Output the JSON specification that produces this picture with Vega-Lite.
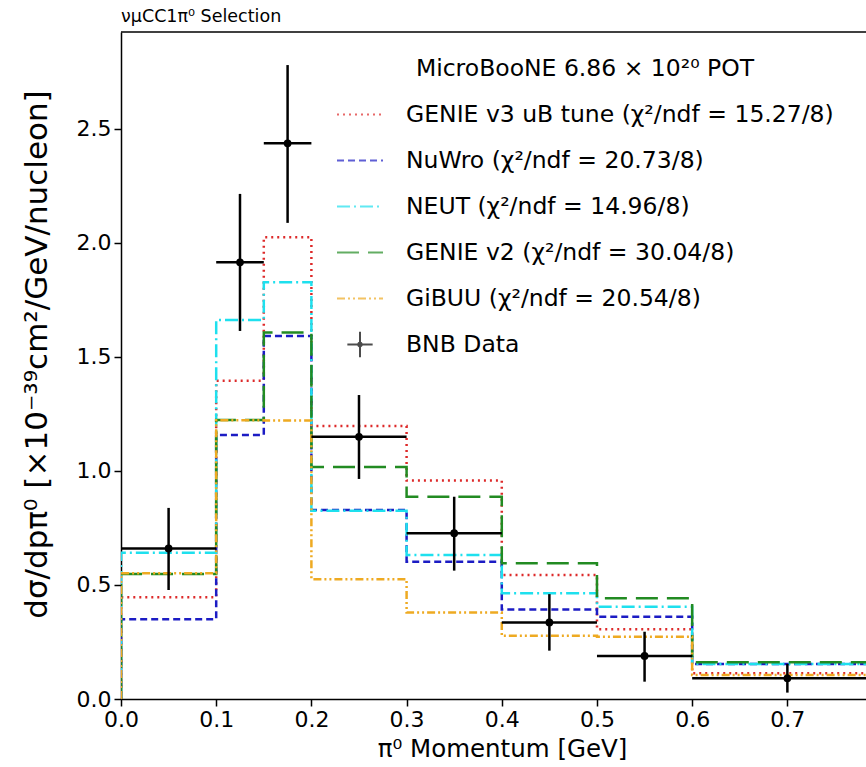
{
  "$schema": "https://vega.github.io/schema/vega-lite/v6.json",
  "autosize": {"type": "none"},
  "padding": {"left": 121, "top": 32, "right": 0, "bottom": 68},
  "width": 745,
  "height": 667,
  "background": "white",
  "title": {"text": "νμCC1π⁰ Selection", "anchor": "start", "frame": "group", "fontSize": 17.5, "fontWeight": "normal", "font": "DejaVu Sans", "color": "black", "offset": 6},
  "config": {
    "view": {"stroke": null},
    "font": "DejaVu Sans",
    "axis": {"labelFont": "DejaVu Sans", "titleFont": "DejaVu Sans", "labelColor": "black", "titleColor": "black", "domainColor": "black", "tickColor": "black", "domainWidth": 1.5, "tickWidth": 1.5, "tickSize": 7, "labelFontSize": 22, "titleFontWeight": "normal", "grid": false, "labelFlush": false},
    "legend": {"labelFont": "DejaVu Sans", "titleFont": "DejaVu Sans", "labelFontSize": 23.5, "titleFontSize": 23.5, "titleFontWeight": "normal", "labelColor": "black", "titleColor": "black", "symbolSize": 2116, "symbolStrokeWidth": 2, "rowPadding": 10, "labelOffset": 22, "padding": 0, "titleAnchor": "middle", "titlePadding": 10, "labelLimit": 800, "titleLimit": 800}
  },
  "datasets": {
    "models": [
      {"model": "GENIE v3 uB tune (χ²/ndf = 15.27/8)", "i": 0, "x": 0, "y": 0},
      {"model": "GENIE v3 uB tune (χ²/ndf = 15.27/8)", "i": 1, "x": 0, "y": 0.446},
      {"model": "GENIE v3 uB tune (χ²/ndf = 15.27/8)", "i": 2, "x": 0.1, "y": 1.396},
      {"model": "GENIE v3 uB tune (χ²/ndf = 15.27/8)", "i": 3, "x": 0.15, "y": 2.025},
      {"model": "GENIE v3 uB tune (χ²/ndf = 15.27/8)", "i": 4, "x": 0.2, "y": 1.197},
      {"model": "GENIE v3 uB tune (χ²/ndf = 15.27/8)", "i": 5, "x": 0.3, "y": 0.958},
      {"model": "GENIE v3 uB tune (χ²/ndf = 15.27/8)", "i": 6, "x": 0.4, "y": 0.544},
      {"model": "GENIE v3 uB tune (χ²/ndf = 15.27/8)", "i": 7, "x": 0.5, "y": 0.306},
      {"model": "GENIE v3 uB tune (χ²/ndf = 15.27/8)", "i": 8, "x": 0.6, "y": 0.113},
      {"model": "GENIE v3 uB tune (χ²/ndf = 15.27/8)", "i": 9, "x": 0.8, "y": 0.113},
      {"model": "NuWro (χ²/ndf = 20.73/8)", "i": 0, "x": 0, "y": 0},
      {"model": "NuWro (χ²/ndf = 20.73/8)", "i": 1, "x": 0, "y": 0.35},
      {"model": "NuWro (χ²/ndf = 20.73/8)", "i": 2, "x": 0.1, "y": 1.158},
      {"model": "NuWro (χ²/ndf = 20.73/8)", "i": 3, "x": 0.15, "y": 1.592},
      {"model": "NuWro (χ²/ndf = 20.73/8)", "i": 4, "x": 0.2, "y": 0.829},
      {"model": "NuWro (χ²/ndf = 20.73/8)", "i": 5, "x": 0.3, "y": 0.602},
      {"model": "NuWro (χ²/ndf = 20.73/8)", "i": 6, "x": 0.4, "y": 0.392},
      {"model": "NuWro (χ²/ndf = 20.73/8)", "i": 7, "x": 0.5, "y": 0.361},
      {"model": "NuWro (χ²/ndf = 20.73/8)", "i": 8, "x": 0.6, "y": 0.154},
      {"model": "NuWro (χ²/ndf = 20.73/8)", "i": 9, "x": 0.8, "y": 0.154},
      {"model": "NEUT (χ²/ndf = 14.96/8)", "i": 0, "x": 0, "y": 0},
      {"model": "NEUT (χ²/ndf = 14.96/8)", "i": 1, "x": 0, "y": 0.641},
      {"model": "NEUT (χ²/ndf = 14.96/8)", "i": 2, "x": 0.1, "y": 1.662},
      {"model": "NEUT (χ²/ndf = 14.96/8)", "i": 3, "x": 0.15, "y": 1.828},
      {"model": "NEUT (χ²/ndf = 14.96/8)", "i": 4, "x": 0.2, "y": 0.825},
      {"model": "NEUT (χ²/ndf = 14.96/8)", "i": 5, "x": 0.3, "y": 0.632},
      {"model": "NEUT (χ²/ndf = 14.96/8)", "i": 6, "x": 0.4, "y": 0.464},
      {"model": "NEUT (χ²/ndf = 14.96/8)", "i": 7, "x": 0.5, "y": 0.405},
      {"model": "NEUT (χ²/ndf = 14.96/8)", "i": 8, "x": 0.6, "y": 0.154},
      {"model": "NEUT (χ²/ndf = 14.96/8)", "i": 9, "x": 0.8, "y": 0.154},
      {"model": "GENIE v2 (χ²/ndf = 30.04/8)", "i": 0, "x": 0, "y": 0},
      {"model": "GENIE v2 (χ²/ndf = 30.04/8)", "i": 1, "x": 0, "y": 0.548},
      {"model": "GENIE v2 (χ²/ndf = 30.04/8)", "i": 2, "x": 0.1, "y": 1.224},
      {"model": "GENIE v2 (χ²/ndf = 30.04/8)", "i": 3, "x": 0.15, "y": 1.607},
      {"model": "GENIE v2 (χ²/ndf = 30.04/8)", "i": 4, "x": 0.2, "y": 1.017},
      {"model": "GENIE v2 (χ²/ndf = 30.04/8)", "i": 5, "x": 0.3, "y": 0.887},
      {"model": "GENIE v2 (χ²/ndf = 30.04/8)", "i": 6, "x": 0.4, "y": 0.595},
      {"model": "GENIE v2 (χ²/ndf = 30.04/8)", "i": 7, "x": 0.5, "y": 0.442},
      {"model": "GENIE v2 (χ²/ndf = 30.04/8)", "i": 8, "x": 0.6, "y": 0.161},
      {"model": "GENIE v2 (χ²/ndf = 30.04/8)", "i": 9, "x": 0.8, "y": 0.161},
      {"model": "GiBUU (χ²/ndf = 20.54/8)", "i": 0, "x": 0, "y": 0},
      {"model": "GiBUU (χ²/ndf = 20.54/8)", "i": 1, "x": 0, "y": 0.552},
      {"model": "GiBUU (χ²/ndf = 20.54/8)", "i": 2, "x": 0.1, "y": 1.222},
      {"model": "GiBUU (χ²/ndf = 20.54/8)", "i": 3, "x": 0.15, "y": 1.221},
      {"model": "GiBUU (χ²/ndf = 20.54/8)", "i": 4, "x": 0.2, "y": 0.525},
      {"model": "GiBUU (χ²/ndf = 20.54/8)", "i": 5, "x": 0.3, "y": 0.379},
      {"model": "GiBUU (χ²/ndf = 20.54/8)", "i": 6, "x": 0.4, "y": 0.277},
      {"model": "GiBUU (χ²/ndf = 20.54/8)", "i": 7, "x": 0.5, "y": 0.273},
      {"model": "GiBUU (χ²/ndf = 20.54/8)", "i": 8, "x": 0.6, "y": 0.105},
      {"model": "GiBUU (χ²/ndf = 20.54/8)", "i": 9, "x": 0.8, "y": 0.105}
    ],
    "bnb": [
      {"x": 0.05, "x0": 0.0, "x1": 0.1, "y": 0.66, "ylo": 0.478, "yhi": 0.838},
      {"x": 0.125, "x0": 0.1, "x1": 0.15, "y": 1.915, "ylo": 1.614, "yhi": 2.215},
      {"x": 0.175, "x0": 0.15, "x1": 0.2, "y": 2.437, "ylo": 2.088, "yhi": 2.78},
      {"x": 0.25, "x0": 0.2, "x1": 0.3, "y": 1.15, "ylo": 0.965, "yhi": 1.333},
      {"x": 0.35, "x0": 0.3, "x1": 0.4, "y": 0.727, "ylo": 0.563, "yhi": 0.887},
      {"x": 0.45, "x0": 0.4, "x1": 0.5, "y": 0.336, "ylo": 0.212, "yhi": 0.46},
      {"x": 0.55, "x0": 0.5, "x1": 0.6, "y": 0.189, "ylo": 0.076, "yhi": 0.295},
      {"x": 0.7, "x0": 0.6, "x1": 0.8, "y": 0.091, "ylo": 0.028, "yhi": 0.154}
    ]
  },
  "encoding": {
    "x": {"type": "quantitative", "scale": {"domain": [0, 0.7826], "nice": false, "zero": false},
      "axis": {"values": [0, 0.1, 0.2, 0.3, 0.4, 0.5, 0.6, 0.7], "format": ".1f", "title": "π⁰ Momentum [GeV]", "titleFontSize": 24.5, "titleX": 381, "titleY": 50, "titleBaseline": "middle", "titleAlign": "center", "labelPadding": 3, "labelFlush": false}},
    "y": {"type": "quantitative", "scale": {"domain": [0, 2.925], "nice": false},
      "axis": {"values": [0, 0.5, 1, 1.5, 2, 2.5], "format": ".1f", "title": "dσ/dpπ⁰ [×10⁻³⁹cm²/GeV/nucleon]", "titleFontSize": 31, "titleX": -84, "titleY": 322, "titleAngle": -90, "titleAlign": "center", "titleBaseline": "middle", "labelPadding": 3, "labelFlush": false}}
  },
  "layer": [
    {
      "data": {"values": [{"top": 2.925}]},
      "mark": {"type": "rule", "color": "black", "strokeWidth": 1.5},
      "encoding": {"y": {"field": "top", "type": "quantitative"}}
    },
    {
      "data": {"name": "models"},
      "mark": {"type": "line", "interpolate": "step-after", "strokeWidth": 2.5, "clip": true},
      "encoding": {
        "x": {"field": "x", "type": "quantitative"},
        "y": {"field": "y", "type": "quantitative"},
        "order": {"field": "i", "type": "quantitative"},
        "color": {"field": "model", "type": "nominal",
          "scale": {"domain": ["GENIE v3 uB tune (χ²/ndf = 15.27/8)", "NuWro (χ²/ndf = 20.73/8)", "NEUT (χ²/ndf = 14.96/8)", "GENIE v2 (χ²/ndf = 30.04/8)", "GiBUU (χ²/ndf = 20.54/8)", "BNB Data"],
                    "range": ["#dd2a2a", "#1c1cc4", "#1ee0ee", "#228b22", "#eeaa22", "#000000"]},
          "legend": {"orient": "none", "legendX": 215, "legendY": 25, "title": "MicroBooNE 6.86 × 10²⁰ POT"}},
        "strokeDash": {"field": "model", "type": "nominal",
          "scale": {"domain": ["GENIE v3 uB tune (χ²/ndf = 15.27/8)", "NuWro (χ²/ndf = 20.73/8)", "NEUT (χ²/ndf = 14.96/8)", "GENIE v2 (χ²/ndf = 30.04/8)", "GiBUU (χ²/ndf = 20.54/8)", "BNB Data"],
                    "range": [[2, 4], [7, 4], [13, 4, 2, 4], [22, 9], [8, 3, 2, 3, 2, 3], [1, 0]]},
          "legend": {"orient": "none", "legendX": 215, "legendY": 25, "title": "MicroBooNE 6.86 × 10²⁰ POT"}}
      }
    },
    {
      "data": {"values": []},
      "mark": {"type": "point", "filled": false},
      "encoding": {
        "x": {"field": "x", "type": "quantitative"},
        "y": {"field": "y", "type": "quantitative"},
        "shape": {"field": "model", "type": "nominal",
          "scale": {"domain": ["GENIE v3 uB tune (χ²/ndf = 15.27/8)", "NuWro (χ²/ndf = 20.73/8)", "NEUT (χ²/ndf = 14.96/8)", "GENIE v2 (χ²/ndf = 30.04/8)", "GiBUU (χ²/ndf = 20.54/8)", "BNB Data"],
                    "range": ["M-1,0H1", "M-1,0H1", "M-1,0H1", "M-1,0H1", "M-1,0H1", "M-0.55,0H0.55M0,-0.55V0.55M0.08,0A0.08,0.08,0,1,1,-0.08,0A0.08,0.08,0,1,1,0.08,0"]},
          "legend": {"orient": "none", "legendX": 215, "legendY": 25, "title": "MicroBooNE 6.86 × 10²⁰ POT"}}
      }
    },
    {
      "data": {"name": "bnb"},
      "mark": {"type": "rule", "color": "black", "strokeWidth": 2.5, "clip": true},
      "encoding": {
        "x": {"field": "x", "type": "quantitative"},
        "y": {"field": "ylo", "type": "quantitative"},
        "y2": {"field": "yhi"}
      }
    },
    {
      "data": {"name": "bnb"},
      "mark": {"type": "rule", "color": "black", "strokeWidth": 2.5, "clip": true},
      "encoding": {
        "x": {"field": "x0", "type": "quantitative"},
        "x2": {"field": "x1"},
        "y": {"field": "y", "type": "quantitative"}
      }
    },
    {
      "data": {"name": "bnb"},
      "mark": {"type": "circle", "color": "black", "size": 60, "opacity": 1, "clip": true},
      "encoding": {
        "x": {"field": "x", "type": "quantitative"},
        "y": {"field": "y", "type": "quantitative"}
      }
    }
  ]
}
